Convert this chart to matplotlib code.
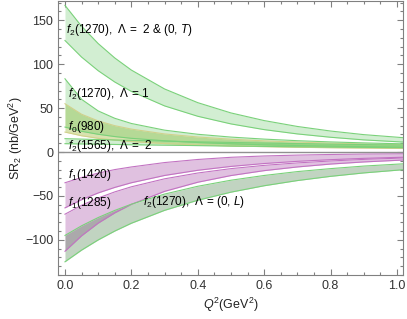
import numpy as np
import matplotlib.pyplot as plt
from matplotlib.ticker import MultipleLocator, FormatStrFormatter

plt.rcParams['font.family'] = ['Liberation Sans', 'DejaVu Sans']
plt.rcParams['mathtext.fontset'] = 'custom'
plt.rcParams['mathtext.rm'] = 'Liberation Sans'
plt.rcParams['mathtext.it'] = 'Liberation Sans:italic'

# Q^2 grid (GeV^2)
q2 = [0.0, 0.05, 0.1, 0.15, 0.2, 0.3, 0.4, 0.5, 0.6, 0.7, 0.8, 0.9, 1.02]

# f2(1270), Lambda = 2 & (0,T)
f2_T_hi = [167, 143.2, 123.5, 107.1, 93.3, 71.8, 56.2, 44.5, 35.8, 29.1, 23.9, 19.8, 16.3]
f2_T_lo = [127, 108.1, 92.6, 79.7, 69.0, 52.5, 40.7, 32.0, 25.5, 20.6, 16.8, 13.8, 11.3]
# f2(1270), Lambda = 1
f2_1_hi = [83.4, 60.0, 46.8, 38.4, 32.5, 24.9, 20.2, 17.0, 14.7, 12.9, 11.5, 10.4, 9.3]
f2_1_lo = [28.4, 23.6, 20.2, 17.6, 15.6, 12.8, 10.8, 9.3, 8.2, 7.4, 6.7, 6.1, 5.5]
# f0(980)
f0_hi = [55, 43.0, 35.4, 30.0, 26.1, 20.6, 17.1, 14.6, 12.7, 11.3, 10.1, 9.2, 8.3]
f0_lo = [22.7, 18.5, 15.6, 13.5, 11.9, 9.6, 8.1, 6.9, 6.1, 5.4, 4.9, 4.5, 4.0]
# f2(1565), Lambda = 2
f2b_hi = [15.2, 14.7, 14.2, 13.7, 13.3, 12.4, 11.6, 10.9, 10.2, 9.6, 9.0, 8.5, 7.9]
f2b_lo = [9.5, 9.2, 8.9, 8.6, 8.3, 7.8, 7.3, 6.8, 6.4, 6.0, 5.6, 5.3, 4.9]
# f1(1420)
f1a_hi = [-35, -29, -24, -20, -17, -12, -8.5, -6, -4.5, -3.5, -2.8, -2.3, -2.0]
f1a_lo = [-63.6, -54.3, -46.6, -40.3, -35.0, -26.7, -20.8, -16.4, -13.1, -10.6, -8.7, -7.2, -5.9]
# f1(1285)
f1b_hi = [-70.8, -60.7, -52.4, -45.4, -39.6, -30.5, -23.9, -18.9, -15.2, -12.4, -10.2, -8.4, -6.8]
f1b_lo = [-113, -95.4, -81.0, -69.3, -59.6, -44.8, -34.4, -26.8, -21.2, -17.0, -13.7, -11.3, -9.1]
# f2(1270), Lambda = (0,L)
f2_L_hi = [-95, -84.0, -74.6, -66.5, -59.4, -47.9, -39.0, -32.1, -26.7, -22.3, -18.9, -16.0, -13.4]
f2_L_lo = [-125, -111.7, -100.1, -90.0, -81.1, -66.4, -54.9, -45.7, -38.4, -32.5, -27.7, -23.8, -20.1]

green = (0.3, 0.75, 0.3)
green_edge = (0.48, 0.82, 0.48)
purple = (0.6, 0.2, 0.6)
purple_edge = (0.76, 0.45, 0.76)
olive = (0.62, 0.72, 0.22)
olive_edge = (0.82, 0.82, 0.55)

fig = plt.figure(figsize=(4.07, 3.19), dpi=100)
ax = fig.add_axes([0.1425, 0.138, 0.8475, 0.859])

def band(lo, hi, fc, ec, a):
    ax.fill_between(q2, lo, hi, color=fc, alpha=a, lw=0)
    ax.plot(q2, lo, color=ec, lw=0.8)
    ax.plot(q2, hi, color=ec, lw=0.8)

band(f0_lo, f0_hi, olive, olive_edge, 0.4)
band(f2_T_lo, f2_T_hi, green, green_edge, 0.25)
band(f2_1_lo, f2_1_hi, green, green_edge, 0.25)
band(f2b_lo, f2b_hi, green, green_edge, 0.25)
band(f1a_lo, f1a_hi, purple, purple_edge, 0.3)
band(f1b_lo, f1b_hi, purple, purple_edge, 0.3)
band(f2_L_lo, f2_L_hi, (0.2, 0.45, 0.2), green_edge, 0.3)

ax.axhline(0, color='#909090', lw=1.0)

fs = 8.5
ax.text(0.003, 139, r'$f_2$(1270),  Λ =  2 & (0, $T$)', fontsize=fs, va='center')
ax.text(0.01, 65.5, r'$f_2$(1270),  Λ = 1', fontsize=fs, va='center')
ax.text(0.01, 29, r'$f_0$(980)', fontsize=fs, va='center')
ax.text(0.01, 6.5, r'$f_2$(1565),  Λ =  2', fontsize=fs, va='center')
ax.text(0.01, -26.5, r'$f_1$(1420)', fontsize=fs, va='center')
ax.text(0.01, -58.5, r'$f_1$(1285)', fontsize=fs, va='center')
ax.text(0.235, -57, r'$f_2$(1270),  Λ = (0, $L$)', fontsize=fs, va='center')

ax.set_xlim(-0.021, 1.018)
ax.set_ylim(-140, 172)
ax.xaxis.set_major_locator(MultipleLocator(0.2))
ax.xaxis.set_minor_locator(MultipleLocator(0.05))
ax.yaxis.set_major_locator(MultipleLocator(50))
ax.yaxis.set_minor_locator(MultipleLocator(10))
ax.xaxis.set_major_formatter(FormatStrFormatter('%.1f'))
ax.tick_params(which='both', direction='in', top=True, right=True,
               color='#808080', labelsize=9, labelcolor='#333333', width=0.8)
ax.tick_params(which='major', length=4)
ax.tick_params(which='minor', length=2)
for s in ax.spines.values():
    s.set_color('#808080')
    s.set_linewidth(0.8)

ax.set_xlabel(r'$Q^2$(GeV$^2$)', fontsize=9, color='#222222', labelpad=3)
ax.set_ylabel(r'SR$_2$ (nb/GeV$^2$)', fontsize=9, color='#222222', labelpad=0)

fig.savefig('out.png', dpi=100)
